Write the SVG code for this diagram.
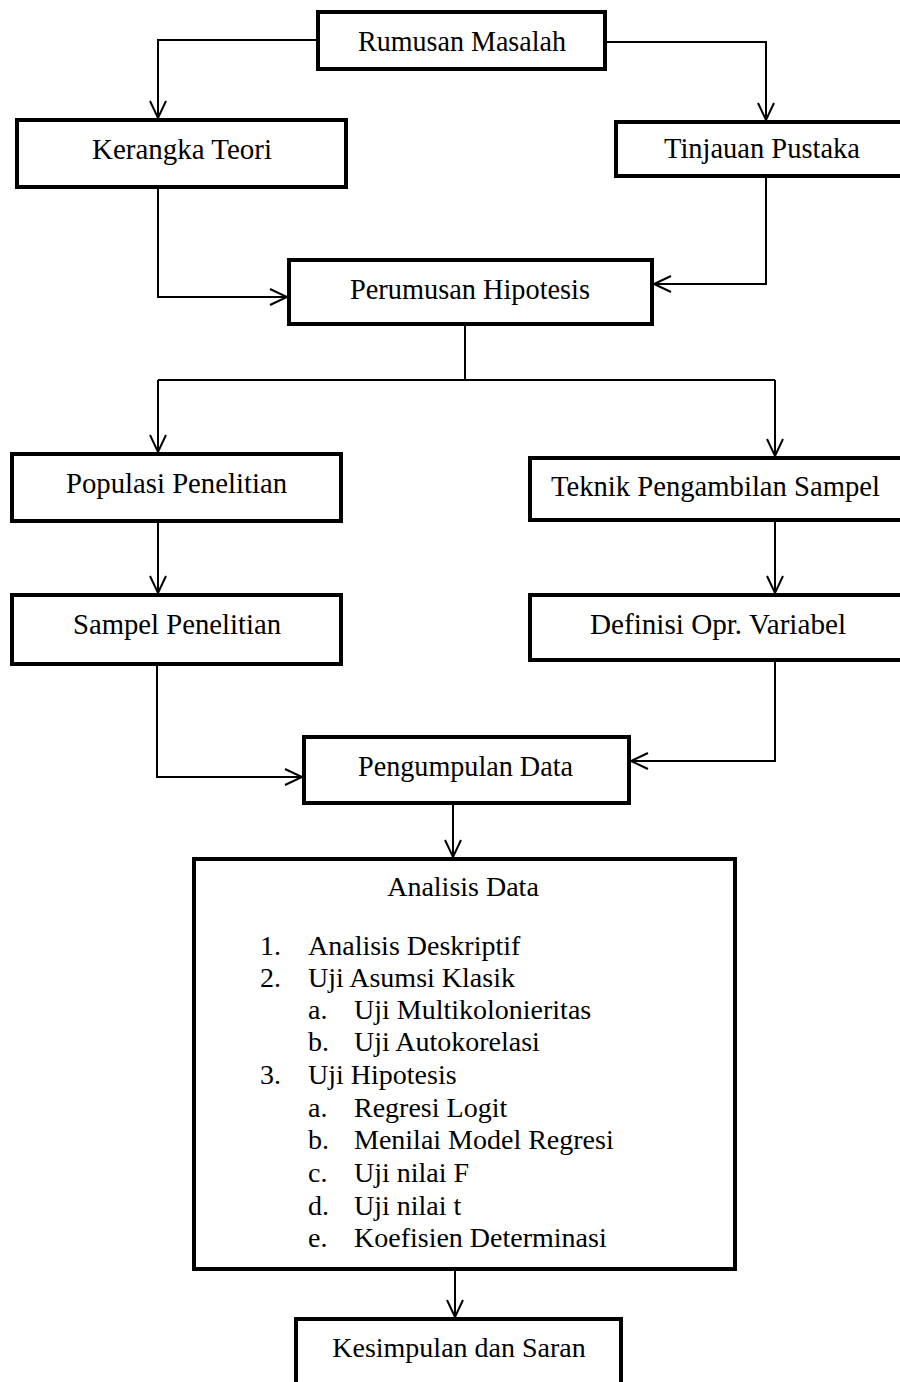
<svg xmlns="http://www.w3.org/2000/svg" width="900" height="1382" viewBox="0 0 900 1382">
<style>
.box{fill:#fff;stroke:#000;stroke-width:4}
.lbl{font-family:"Liberation Serif","Times New Roman",serif;font-size:28px;fill:#000}
.nl{font-size:30px}
.c{text-anchor:middle}
.con{fill:none;stroke:#000;stroke-width:2;marker-end:url(#arr)}
.ln{fill:none;stroke:#000;stroke-width:2}
</style>
<defs>
<marker id="arr" markerUnits="userSpaceOnUse" markerWidth="24" markerHeight="24" viewBox="-20 -12 24 24" refX="0" refY="0" orient="auto">
<path d="M-17,-8 L0,0 L-17,8" fill="none" stroke="#000" stroke-width="2"/>
</marker>
</defs>
<rect width="900" height="1382" fill="#fff"/>
<g id="connectors">
<path class="con" d="M316,40 H158 V118"/>
<path class="con" d="M607,42 H766 V120"/>
<path class="con" d="M158,189 V297 H287"/>
<path class="con" d="M766,178 V284 H654"/>
<path class="ln" d="M465,326 V380"/>
<path class="ln" d="M158,380 H775"/>
<path class="con" d="M158,380 V452"/>
<path class="con" d="M775,380 V456"/>
<path class="con" d="M158,523 V593"/>
<path class="con" d="M775,522 V593"/>
<path class="con" d="M157,666 V777 H302"/>
<path class="con" d="M775,662 V761 H631"/>
<path class="con" d="M453,805 V857"/>
<path class="con" d="M455,1271 V1317"/>
</g>
<g id="rumusan"><rect class="box" x="318" y="12" width="287" height="57"/><text class="lbl nl" x="358" y="51" textLength="208" lengthAdjust="spacingAndGlyphs">Rumusan Masalah</text></g>
<g id="kerangka"><rect class="box" x="17" y="120" width="329" height="67"/><text class="lbl nl" x="92" y="159" textLength="180" lengthAdjust="spacingAndGlyphs">Kerangka Teori</text></g>
<g id="tinjauan"><rect class="box" x="616" y="122" width="300" height="54"/><text class="lbl nl" x="664" y="158" textLength="196" lengthAdjust="spacingAndGlyphs">Tinjauan Pustaka</text></g>
<g id="perumusan"><rect class="box" x="289" y="260" width="363" height="64"/><text class="lbl nl" x="350" y="299" textLength="240" lengthAdjust="spacingAndGlyphs">Perumusan Hipotesis</text></g>
<g id="populasi"><rect class="box" x="12" y="454" width="329" height="67"/><text class="lbl nl" x="66" y="493" textLength="221" lengthAdjust="spacingAndGlyphs">Populasi Penelitian</text></g>
<g id="teknik"><rect class="box" x="530" y="458" width="385" height="62"/><text class="lbl nl" x="551" y="496" textLength="329" lengthAdjust="spacingAndGlyphs">Teknik Pengambilan Sampel</text></g>
<g id="sampel"><rect class="box" x="12" y="595" width="329" height="69"/><text class="lbl nl" x="73" y="634" textLength="208" lengthAdjust="spacingAndGlyphs">Sampel Penelitian</text></g>
<g id="definisi"><rect class="box" x="530" y="595" width="385" height="65"/><text class="lbl nl" x="590" y="634" textLength="256" lengthAdjust="spacingAndGlyphs">Definisi Opr. Variabel</text></g>
<g id="pengumpulan"><rect class="box" x="304" y="737" width="325" height="66"/><text class="lbl nl" x="358" y="776" textLength="215" lengthAdjust="spacingAndGlyphs">Pengumpulan Data</text></g>
<g id="analisis"><rect class="box" x="194" y="859" width="541" height="410"/>
<text class="lbl c" x="463" y="896">Analisis Data</text>
<text class="lbl" x="260" y="955">1.</text><text class="lbl" x="308" y="955">Analisis Deskriptif</text>
<text class="lbl" x="260" y="987">2.</text><text class="lbl" x="308" y="987">Uji Asumsi Klasik</text>
<text class="lbl" x="308" y="1019">a.</text><text class="lbl" x="354" y="1019">Uji Multikolonieritas</text>
<text class="lbl" x="308" y="1051">b.</text><text class="lbl" x="354" y="1051">Uji Autokorelasi</text>
<text class="lbl" x="260" y="1084">3.</text><text class="lbl" x="308" y="1084">Uji Hipotesis</text>
<text class="lbl" x="308" y="1117">a.</text><text class="lbl" x="354" y="1117">Regresi Logit</text>
<text class="lbl" x="308" y="1149">b.</text><text class="lbl" x="354" y="1149">Menilai Model Regresi</text>
<text class="lbl" x="308" y="1182">c.</text><text class="lbl" x="354" y="1182">Uji nilai F</text>
<text class="lbl" x="308" y="1215">d.</text><text class="lbl" x="354" y="1215">Uji nilai t</text>
<text class="lbl" x="308" y="1247">e.</text><text class="lbl" x="354" y="1247">Koefisien Determinasi</text>
</g>
<g id="kesimpulan"><rect class="box" x="296" y="1319" width="325" height="100"/><text class="lbl c" x="459" y="1357">Kesimpulan dan Saran</text></g>
</svg>
